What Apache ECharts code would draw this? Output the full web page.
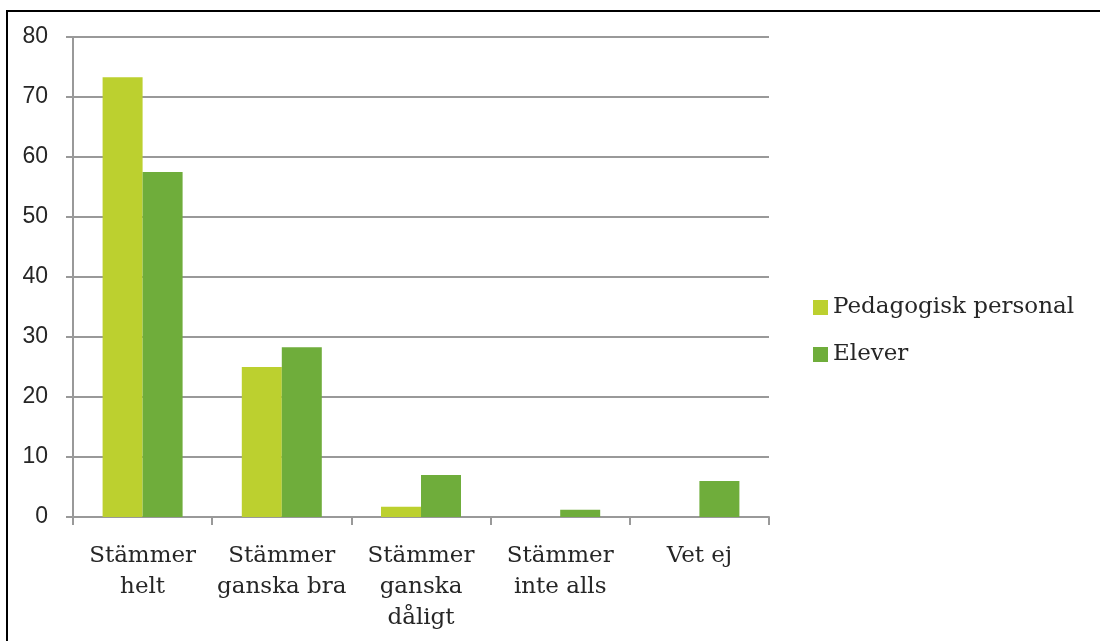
<!DOCTYPE html>
<html>
<head>
<meta charset="utf-8">
<script src="https://cdn.jsdelivr.net/npm/echarts@6/dist/echarts.min.js"></script>
<style>
  html, body { margin: 0; padding: 0; background: #fff; }
  #chart { width: 1100px; height: 641px; }
</style>
</head>
<body>
<div id="chart"></div>
<script>
const categories = ["Stämmer\nhelt", "Stämmer\nganska bra", "Stämmer\nganska\ndåligt", "Stämmer\ninte alls", "Vet ej"];
const personal = [73.3, 25, 1.7, 0, 0];
const elever = [57.5, 28.3, 7, 1.2, 6];
const seriesNames = ["Pedagogisk personal", "Elever"];

const slab = "'DejaVu Serif', serif";
const chart = echarts.init(document.getElementById("chart"));

chart.setOption({
  backgroundColor: "#fff",
  animation: false,
  graphic: [
    {
      type: "rect",
      shape: { x: 7, y: 11, width: 1200, height: 1000 },
      style: { fill: "none", stroke: "#000", lineWidth: 2 },
    },
  ],
  legend: {
    orient: "vertical",
    left: 808,
    top: 291,
    itemWidth: 15,
    itemHeight: 15,
    itemGap: 24,
    icon: "rect",
    textStyle: { fontFamily: slab, fontSize: 23, color: "#262626" },
    data: seriesNames,
  },
  grid: { left: 73, right: 331, top: 37, bottom: 124 },
  xAxis: {
    type: "category",
    data: categories,
    axisLine: { lineStyle: { color: "#999", width: 2 } },
    axisTick: { show: true, length: 8, lineStyle: { color: "#999", width: 2 } },
    axisLabel: {
      interval: 0,
      margin: 24,
      fontFamily: slab,
      fontSize: 23,
      lineHeight: 31,
      color: "#262626",
    },
  },
  yAxis: {
    type: "value",
    min: 0,
    max: 80,
    interval: 10,
    axisLine: { show: true, lineStyle: { color: "#999", width: 2 } },
    axisTick: { show: true, length: 7, lineStyle: { color: "#999", width: 2 } },
    splitLine: { lineStyle: { color: "#999", width: 2 } },
    axisLabel: {
      margin: 25,
      fontFamily: "'Liberation Sans', Arial, sans-serif",
      fontSize: 23,
      color: "#262626",
    },
  },
  series: [
    {
      name: seriesNames[0],
      type: "bar",
      data: personal,
      barWidth: 40,
      barGap: "0%",
      itemStyle: { color: "#bcd02f" },
    },
    {
      name: seriesNames[1],
      type: "bar",
      data: elever,
      barWidth: 40,
      itemStyle: { color: "#6fad3b" },
    },
  ],
});
</script>
</body>
</html>
